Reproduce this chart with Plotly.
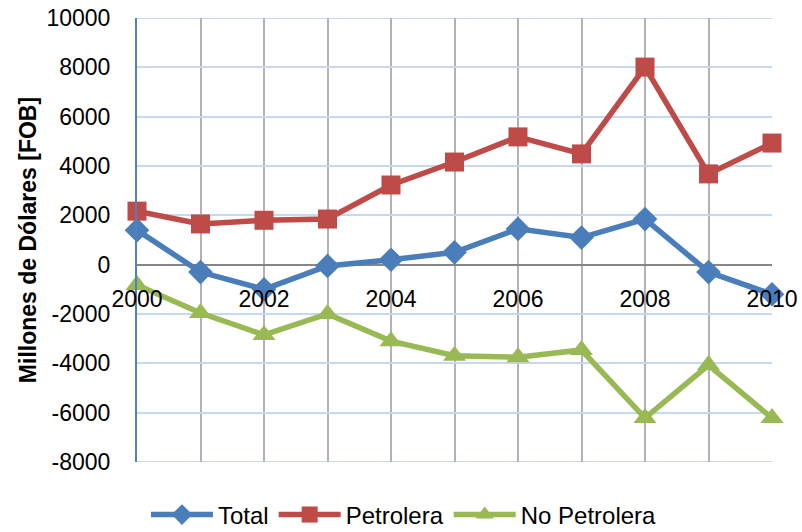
import plotly.graph_objects as go

years = [2000, 2001, 2002, 2003, 2004, 2005, 2006, 2007, 2008, 2009, 2010]
total = [1400, -300, -1000, -50, 200, 500, 1450, 1100, 1850, -300, -1200]
petrolera = [2170, 1650, 1800, 1850, 3230, 4160, 5180, 4490, 8010, 3680, 4930]
no_petrolera = [-820, -1960, -2850, -2000, -3100, -3690, -3750, -3460, -6220, -4070, -6220]
x_ticks = [2000, 2002, 2004, 2006, 2008, 2010]
y_ticks = [10000, 8000, 6000, 4000, 2000, 0, -2000, -4000, -6000, -8000]

FONT = "Liberation Sans, Arial, sans-serif"

fig = go.Figure()
series = [
    ("Total", total, "#4a7ebb", "diamond", 19),
    ("Petrolera", petrolera, "#be4b48", "square", 19),
    ("No Petrolera", no_petrolera, "#98b954", "triangle-up", 20),
]
for name, vals, color, sym, size in series:
    fig.add_trace(go.Scatter(
        x=years, y=vals, name=name, mode="lines+markers",
        line=dict(color=color, width=5.5),
        marker=dict(symbol=sym, size=size, color=color),
        cliponaxis=False,
    ))

# top and bottom light-blue borders of the plot area
for yv in (max(y_ticks), min(y_ticks)):
    fig.add_shape(type="line", xref="paper", x0=0, x1=1, yref="y", y0=yv, y1=yv,
                  line=dict(color="#c6d9f1", width=2), layer="below")

W, H = 802, 532
fig.update_layout(
    width=W, height=H,
    margin=dict(l=137, r=30, t=18, b=70),
    paper_bgcolor="white", plot_bgcolor="white",
    font=dict(family=FONT, size=23, color="black"),
    showlegend=True,
    legend=dict(orientation="h", xref="container", x=0.5037, xanchor="center",
                yref="container", y=0.032, yanchor="middle",
                font=dict(size=24), itemwidth=62, tracegroupgap=0),
    xaxis=dict(
        range=[2000, 2010], tickvals=x_ticks, ticktext=[str(v) for v in x_ticks],
        showgrid=True, gridcolor="#b3b3b3", gridwidth=2,
        minor=dict(dtick=1, tick0=2000, showgrid=True, gridcolor="#b3b3b3", gridwidth=2),
        anchor="free", position=8000/18000, showline=False, zeroline=False,
        ticks="", ticklabelstandoff=18, automargin=False, ticklabeloverflow="allow",
    ),
    yaxis=dict(
        range=[-8000, 10000], tickvals=y_ticks, ticktext=[str(v) for v in y_ticks],
        showgrid=True, gridcolor="#c6d9f1", gridwidth=2,
        zeroline=True, zerolinecolor="#868686", zerolinewidth=2,
        showline=True, linecolor="#4f81bd", linewidth=2,
        ticks="", ticklabelstandoff=20, automargin=False, ticklabeloverflow="allow",
        title=dict(text="<b>Millones de Dólares [FOB]</b>", font=dict(family=FONT, size=23), standoff=3),
    ),
)

fig.write_html("out.html", config={"displayModeBar": False},
               post_script="document.body.style.margin='0';")
